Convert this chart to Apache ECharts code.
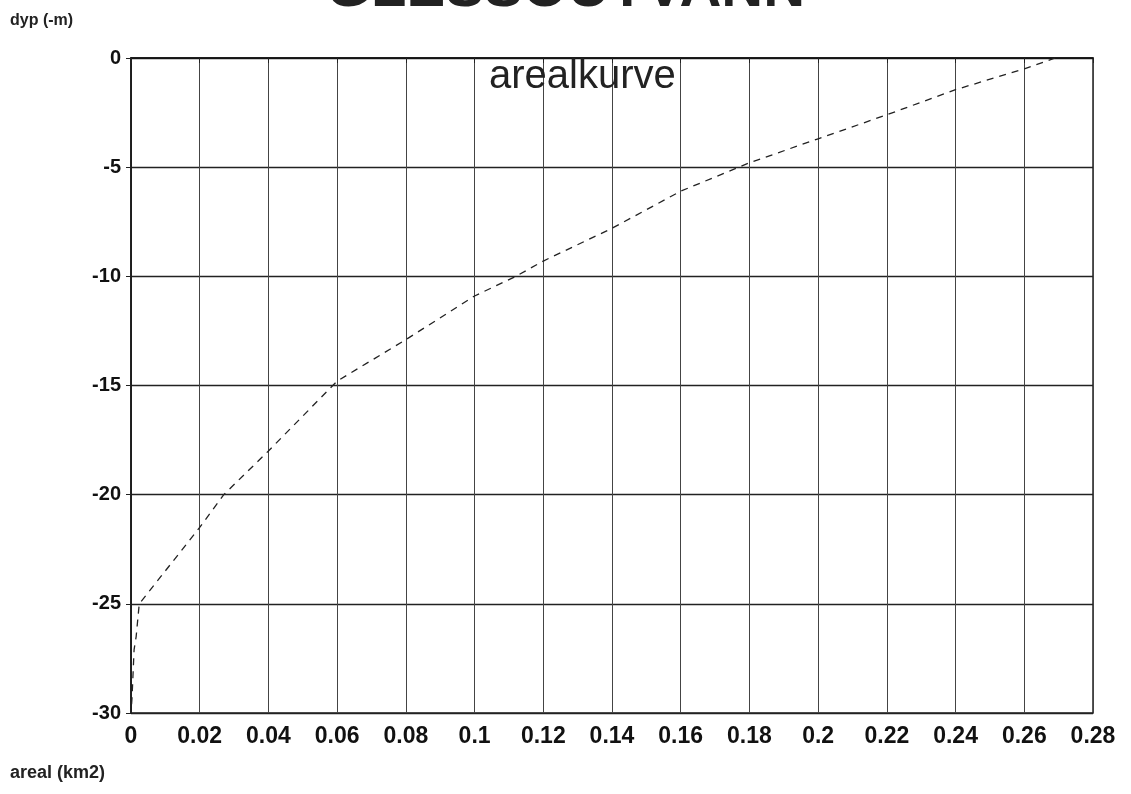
<!DOCTYPE html>
<html>
<head>
<meta charset="utf-8">
<script src="https://cdn.jsdelivr.net/npm/echarts@6/dist/echarts.min.js"></script>
<style>
  html, body { margin: 0; padding: 0; background: #fff; }
  #chart { width: 1131px; height: 794px; }
</style>
</head>
<body>
<div id="chart"></div>
<script>
// areal (km2) against dyp (-m)
const areal = [0.269, 0.26, 0.24, 0.22, 0.2, 0.18, 0.16, 0.14, 0.12, 0.112, 0.1, 0.08, 0.06, 0.04, 0.027, 0.02, 0.0024, 0.0015, 0.0009, 0.0003, 0]
const dyp = [0, -0.5, -1.45, -2.6, -3.7, -4.8, -6.1, -7.8, -9.3, -10, -10.9, -12.9, -14.8, -18, -20, -21.5, -25, -26.5, -27.1, -29.3, -30]

const xTicks = [0, 0.28, 0.02]   // min, max, step
const yTicks = [-30, 0, 5]

const chart = echarts.init(document.getElementById('chart'))
const fontFamily = 'Liberation Sans, Arial, sans-serif'

chart.setOption({
  animation: false,
  title: [
    {
      text: 'GLESSOUTVANN',
      left: 'center',
      top: -44,
      textStyle: { fontSize: 58, fontWeight: 'bold', color: '#222', fontFamily: fontFamily }
    },
    {
      text: 'arealkurve',
      left: 484,
      top: 52,
      textStyle: { fontSize: 40, fontWeight: 'normal', color: '#222', fontFamily: fontFamily }
    }
  ],
  graphic: [
    { type: 'text', left: 10, top: 13, style: { text: 'dyp (-m)', fill: '#222', font: 'bold 16px Liberation Sans, Arial, sans-serif' } },
    { type: 'text', left: 10, top: 764, style: { text: 'areal (km2)', fill: '#222', font: 'bold 18px Liberation Sans, Arial, sans-serif' } }
  ],
  grid: {
    left: 131,
    right: 38,
    top: 58,
    bottom: 81,
    show: true,
    borderColor: '#222',
    borderWidth: 1.5
  },
  xAxis: {
    type: 'value',
    min: xTicks[0],
    max: xTicks[1],
    interval: xTicks[2],
    axisLine: { show: true, lineStyle: { color: '#111', width: 1.5 } },
    axisTick: { show: true, length: 5, lineStyle: { color: '#222' } },
    axisLabel: { margin: 12, color: '#111', fontFamily: fontFamily, fontWeight: 'bold', fontSize: 23 },
    splitLine: { show: true, lineStyle: { color: '#444', width: 1 } }
  },
  yAxis: {
    type: 'value',
    min: yTicks[0],
    max: yTicks[1],
    interval: yTicks[2],
    axisLine: { show: true, lineStyle: { color: '#111', width: 1.5 } },
    axisTick: { show: true, length: 5, lineStyle: { color: '#222' } },
    axisLabel: { margin: 10, color: '#111', fontFamily: fontFamily, fontWeight: 'bold', fontSize: 20 },
    splitLine: { show: true, lineStyle: { color: '#222', width: 1.3 } }
  },
  series: [{
    type: 'line',
    data: areal.map((a, i) => [a, dyp[i]]),
    showSymbol: false,
    smooth: false,
    lineStyle: { color: '#222', width: 1.3, type: [7, 6] }
  }]
})
</script>
</body>
</html>
